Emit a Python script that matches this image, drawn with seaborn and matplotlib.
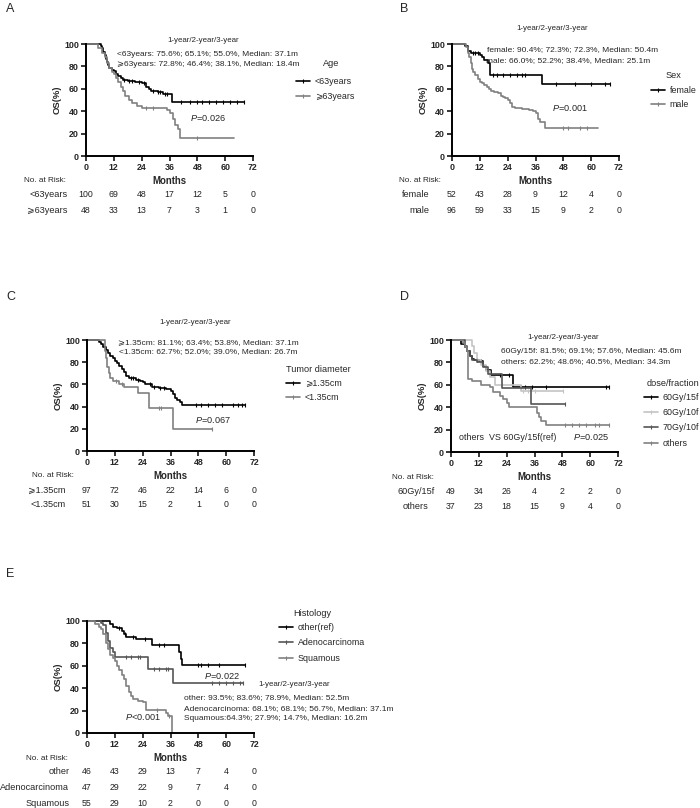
import numpy as np
import seaborn as sns
import matplotlib.pyplot as plt
from matplotlib.lines import Line2D

# ---- Kaplan-Meier estimates (months, OS %) ----

# A: Age
A_young_t = [0, 6.5, 7, 7.5, 8, 8.5, 9, 9.5, 10, 11, 12, 13, 14, 15, 16, 18, 21, 24, 26, 27, 28, 31, 33, 37, 68]
A_young_s = [100, 98, 96, 93, 90, 87, 84, 81, 79, 77, 75.6, 73, 71, 70, 68, 67, 66, 65.1, 62, 60, 58, 57, 55, 48, 48]
A_young_c = [16.5, 18.5, 20, 23, 25, 29, 31, 32, 34, 35, 41, 45, 48, 50, 53, 56, 59, 62, 65, 68]
A_old_t = [0, 5, 7, 8, 9, 10, 11, 12, 13, 14, 15, 16, 17, 18.4, 20, 22, 24, 35, 36, 37.5, 38.5, 39.5, 40.5, 64]
A_old_s = [100, 96, 92, 88, 83, 79, 75, 72.8, 70, 66, 62, 58, 54, 50, 47, 45, 43, 41, 38.1, 33, 28, 24, 16, 16]
A_old_c = [26, 29, 48]

# B: Sex
B_female_t = [0, 5.5, 7, 8, 12, 13, 14, 15.5, 16.4, 39, 68]
B_female_s = [100, 98, 94, 92, 90.4, 88, 86, 83, 72.3, 64.5, 64.5]
B_female_c = [9, 10, 11, 17.5, 19.5, 22, 25, 28, 30, 31.5, 45, 53, 60, 66, 68]
B_male_t = [0, 6, 7, 7.5, 8, 8.5, 9, 10, 11, 12, 13, 14, 15, 16, 17, 18, 20, 21, 22, 23, 24, 25, 26, 27, 30,
            33, 35, 36, 37, 38, 40, 63]
B_male_s = [100, 97, 92, 88, 83, 78, 75, 72, 69, 66, 65, 63, 62, 60, 58, 57, 56, 54, 53, 52.2, 50, 47, 44, 43, 42,
            41, 40, 38.4, 33, 30, 25, 25]
B_male_c = [48, 50, 55, 58]

# C: Tumor diameter
C_big_t = [0, 5, 6, 7, 8, 9, 10, 11, 12, 13, 14, 15, 16, 17, 18, 21, 23, 24, 25, 28, 31, 34, 36, 37, 38, 39, 40,
           41, 68]
C_big_s = [100, 98, 96, 94, 91, 88, 86, 84, 81.1, 79, 77, 74, 71, 68, 66, 64, 63.4, 62, 60, 58, 57, 56, 53.8, 51,
           48, 46, 44, 41.5, 41.5]
C_big_c = [19, 20, 22, 27, 29, 31.5, 33, 47, 49, 52, 55, 58, 63, 65, 67, 68]
C_small_t = [0, 7.8, 8.3, 8.8, 9.3, 10, 11, 14, 16, 22, 26.8, 37, 54]
C_small_s = [100, 90, 84, 76, 70, 66, 62.7, 60, 58, 52, 39, 19.5, 19.5]
C_small_c = [12.5, 15, 31, 32, 54]

# D: dose/fraction
D_g15_t = [0, 4.5, 6, 7, 8, 9, 10, 12, 14, 15, 17.4, 26.7, 68]
D_g15_s = [100, 96, 94, 90, 86, 83, 82, 81.5, 77, 73, 69.1, 57.6, 57.6]
D_g15_c = [11, 13, 21, 25, 30, 32, 35, 41, 67, 68]
D_g10_t = [0, 9, 10, 11, 13, 15, 17, 19, 30, 48.5]
D_g10_s = [100, 95, 88, 82, 78, 72, 67, 60, 54.5, 54.5]
D_g10_c = [22, 31, 33, 36, 48.5]
D_g70_t = [0, 6, 7, 8, 9, 11, 14, 16, 22, 34.5, 49]
D_g70_s = [100, 95, 90, 86, 82, 80, 76, 70, 57, 43, 43]
D_g70_c = [49]
D_oth_t = [0, 5, 6, 7, 7.5, 9, 13, 17, 18, 21, 22.5, 24, 25, 37, 38, 39, 41, 68]
D_oth_s = [100, 97, 94, 90, 65, 63, 60, 58, 54, 50, 47, 44, 40.5, 35, 31, 28, 24, 24]
D_oth_c = [49, 52, 55, 58, 62, 64, 68]

# E: Histology
E_oth_t = [0, 10, 11, 13, 15, 16, 17, 21, 28, 39.8, 40.5, 41, 68]
E_oth_s = [100, 97, 95, 93.5, 91, 88, 86, 83.6, 79, 72, 66, 61, 61]
E_oth_c = [14, 16.5, 20, 25, 31, 33, 48, 49, 52, 57, 68]
E_ade_t = [0, 6, 7, 8, 9, 10, 11, 12, 26.4, 37.2, 67.4]
E_ade_s = [100, 98, 96, 89, 82, 76, 72, 68.1, 56.7, 45, 45]
E_ade_c = [17, 19, 22, 23, 29, 31, 34, 35, 54, 57, 60, 63, 66, 67.4]
E_squ_t = [0, 3.5, 5, 6, 7, 8, 9, 10, 11, 12, 13, 14, 15, 16, 17, 18, 19, 20, 22, 24, 25.5, 34, 35, 36.5]
E_squ_s = [100, 97, 95, 93, 88, 80, 75, 70, 67, 64.3, 60, 56, 52, 48, 42, 37, 33, 30, 29, 27.9, 20.5, 18, 15, 0]
E_squ_c = [30, 35.5]

# numbers at risk (at 0, 12, ..., 72 months)
risk_months = [0, 12, 24, 36, 48, 60, 72]
A_risk = {"<63years": [100, 69, 48, 17, 12, 5, 0], "⩾63years": [48, 33, 13, 7, 3, 1, 0]}
B_risk = {"female": [52, 43, 28, 9, 12, 4, 0], "male": [96, 59, 33, 15, 9, 2, 0]}
C_risk = {"⩾1.35cm": [97, 72, 46, 22, 14, 6, 0], "<1.35cm": [51, 30, 15, 2, 1, 0, 0]}
D_risk = {"60Gy/15f": [49, 34, 26, 4, 2, 2, 0], "others": [37, 23, 18, 15, 9, 4, 0]}
E_risk = {"other": [46, 43, 29, 13, 7, 4, 0], "Adenocarcinoma": [47, 29, 22, 9, 7, 4, 0],
          "Squamous": [55, 29, 10, 2, 0, 0, 0]}

BLACK = "#000000"
GRAY = "#808080"
LIGHT = "#c4c4c4"
DARK = "#555555"

sns.set_theme(style="ticks")
plt.rcParams["font.family"] = ["Liberation Sans", "DejaVu Sans"]
plt.rcParams["mathtext.fontset"] = "custom"
plt.rcParams["mathtext.it"] = "Liberation Sans:italic"
plt.rcParams["mathtext.rm"] = "Liberation Sans"

W, H = 700, 808
fig = plt.figure(figsize=(W / 100, H / 100), dpi=100)
fig.patch.set_facecolor("white")


def fx(px):
    return px / W


def fy(py):
    return 1 - py / H


def make_axes(left, top, bottom, width=167):
    return fig.add_axes([fx(left), fy(bottom), width / W, (bottom - top) / H])


def step_value(t, s, c):
    idx = np.searchsorted(t, c, side="right") - 1
    return np.asarray(s)[idx]


def km_panel(ax, curves, risk, risk_x, risk_rows, risk_ha, no_risk_x, label_y):
    for t, s, c, color in curves:
        sns.lineplot(x=t, y=s, drawstyle="steps-post", estimator=None, sort=False,
                     color=color, linewidth=1.2, ax=ax, clip_on=False, legend=False)
        sns.scatterplot(x=c, y=step_value(t, s, c), marker="|", s=8, color=color,
                        linewidth=0.8, ax=ax, clip_on=False, legend=False)
    ax.set_xlim(0, 72)
    ax.set_ylim(0, 100)
    ax.set_xticks(risk_months)
    ax.set_yticks([0, 20, 40, 60, 80, 100])
    ax.tick_params(length=3.5, width=1.1, labelsize=6.4, pad=1.5, color="black")
    for lab in ax.get_xticklabels() + ax.get_yticklabels():
        lab.set_fontweight("bold")
    for side in ["top", "right"]:
        ax.spines[side].set_visible(False)
    for side in ["left", "bottom"]:
        ax.spines[side].set_linewidth(1.4)
        ax.spines[side].set_color("black")
    ax.set_xlabel("")
    ax.set_ylabel("OS(%)", fontsize=6.8, fontweight="bold", labelpad=2)

    tr = ax.get_xaxis_transform()
    ax.text(0.5, label_y, "Months", transform=ax.transAxes, ha="center", va="center",
            fontsize=6.9, fontweight="bold")
    ax.text(no_risk_x, label_y, "No. at Risk:", transform=ax.transAxes, ha="left",
            va="center", fontsize=5.9)
    for (name, counts), ry in zip(risk.items(), risk_rows):
        ax.text(risk_x, ry, name, transform=ax.transAxes, ha=risk_ha, va="center", fontsize=6.6)
        for m, n in zip(risk_months, counts):
            ax.text(m, ry, str(n), transform=tr, ha="center", va="center", fontsize=6.3,
                    color="#222222")


def km_legend(title, labels, colors, left, title_x, title_y, first_y, spacing=0.72):
    fig.text(fx(title_x), fy(title_y), title, fontsize=6.6, ha="center", va="center")
    handles = [Line2D([0], [0], color=c, lw=1.2, marker="|", markersize=3,
                      markeredgewidth=0.8) for c in colors]
    fig.legend(handles, labels, loc="upper left",
               bbox_to_anchor=(fx(left), fy(first_y - 5)), frameon=False, fontsize=6.4,
               handlelength=1.6, handletextpad=0.5,
               labelspacing=spacing, borderpad=0, borderaxespad=0)


def note(px, py, s, size=6.0, ha="left"):
    fig.text(fx(px), fy(py), s, fontsize=size, ha=ha, va="center")


# ---- panel A ----
axA = make_axes(86, 44, 156)
km_panel(axA, [(A_young_t, A_young_s, A_young_c, BLACK), (A_old_t, A_old_s, A_old_c, GRAY)],
         A_risk, -0.11, [-0.348, -0.49], "right", -0.371, -0.223)
km_legend("Age", list(A_risk.keys()), [BLACK, GRAY], 296, 331, 63, 82)
note(203, 40, "1-year/2-year/3-year", 5.7, "center")
note(117, 54, "<63years: 75.6%; 65.1%; 55.0%, Median: 37.1m")
note(117, 64, "⩾63years: 72.8%; 46.4%; 38.1%, Median: 18.4m")
note(190, 118, "$\\it{P}$=0.026", 6.6)

# ---- panel B ----
axB = make_axes(452, 44, 156)
km_panel(axB, [(B_female_t, B_female_s, B_female_c, BLACK), (B_male_t, B_male_s, B_male_c, GRAY)],
         B_risk, -0.135, [-0.348, -0.49], "right", -0.317, -0.223)
km_legend("Sex", list(B_risk.keys()), [BLACK, GRAY], 651, 673, 76, 91, 0.55)
note(552, 29, "1-year/2-year/3-year", 5.7, "center")
note(487, 50, "female: 90.4%; 72.3%; 72.3%, Median: 50.4m")
note(486, 61, "male: 66.0%; 52.2%; 38.4%, Median: 25.1m")
note(552, 108, "$\\it{P}$=0.001", 6.6)

# ---- panel C ----
axC = make_axes(87, 340, 451)
km_panel(axC, [(C_big_t, C_big_s, C_big_c, BLACK), (C_small_t, C_small_s, C_small_c, GRAY)],
         C_risk, -0.13, [-0.357, -0.482], "right", -0.33, -0.225)
km_legend("Tumor diameter", list(C_risk.keys()), [BLACK, GRAY], 286, 318, 369, 384, 0.6)
note(195, 322, "1-year/2-year/3-year", 5.7, "center")
note(118, 343, "⩾1.35cm: 81.1%; 63.4%; 53.8%, Median: 37.1m")
note(119, 352, "<1.35cm: 62.7%; 52.0%; 39.0%, Median: 26.7m")
note(195, 420, "$\\it{P}$=0.067", 6.6)

# ---- panel D ----
axD = make_axes(451, 340, 452)
km_panel(axD, [(D_g15_t, D_g15_s, D_g15_c, BLACK), (D_g10_t, D_g10_s, D_g10_c, LIGHT),
               (D_g70_t, D_g70_s, D_g70_c, DARK), (D_oth_t, D_oth_s, D_oth_c, GRAY)],
         D_risk, -0.21, [-0.357, -0.49], "center", -0.353, -0.225)
km_legend("dose/fraction", ["60Gy/15f", "60Gy/10f", "70Gy/10f", "others"],
          [BLACK, LIGHT, DARK, GRAY], 644, 673, 384, 398, 0.7)
note(563, 338, "1-year/2-year/3-year", 5.7, "center")
note(501, 352, "60Gy/15f: 81.5%; 69.1%; 57.6%, Median: 45.6m")
note(501, 362, "others: 62.2%; 48.6%; 40.5%, Median: 34.3m")
note(459, 437, "others  VS 60Gy/15f(ref)", 6.4)
note(573, 437, "$\\it{P}$=0.025", 6.6)

# ---- panel E ----
axE = make_axes(87, 621, 733)
km_panel(axE, [(E_oth_t, E_oth_s, E_oth_c, BLACK), (E_ade_t, E_ade_s, E_ade_c, DARK),
               (E_squ_t, E_squ_s, E_squ_c, GRAY)],
         E_risk, -0.105, [-0.348, -0.491, -0.625], "right", -0.365, -0.225)
km_legend("Histology", ["other(ref)", "Adenocarcinoma", "Squamous"], [BLACK, DARK, GRAY],
          279, 312, 613, 628, 0.72)
note(258, 684, "1-year/2-year/3-year", 5.7)
note(184, 698, "other: 93.5%; 83.6%; 78.9%, Median: 52.5m")
note(184, 709, "Adenocarcinoma: 68.1%; 68.1%; 56.7%, Median: 37.1m")
note(184, 719, "Squamous:64.3%; 27.9%; 14.7%, Median: 16.2m")
note(204, 676, "$\\it{P}$=0.022", 6.6)
note(125, 717, "$\\it{P}$<0.001", 6.6)

# ---- panel letters ----
for letter, px, py in [("A", 6, 9), ("B", 400, 9), ("C", 6, 297), ("D", 400, 297), ("E", 6, 574)]:
    fig.text(fx(px), fy(py), letter, fontsize=9, ha="left", va="center")

fig.savefig("out.png", dpi=100, facecolor="white")
